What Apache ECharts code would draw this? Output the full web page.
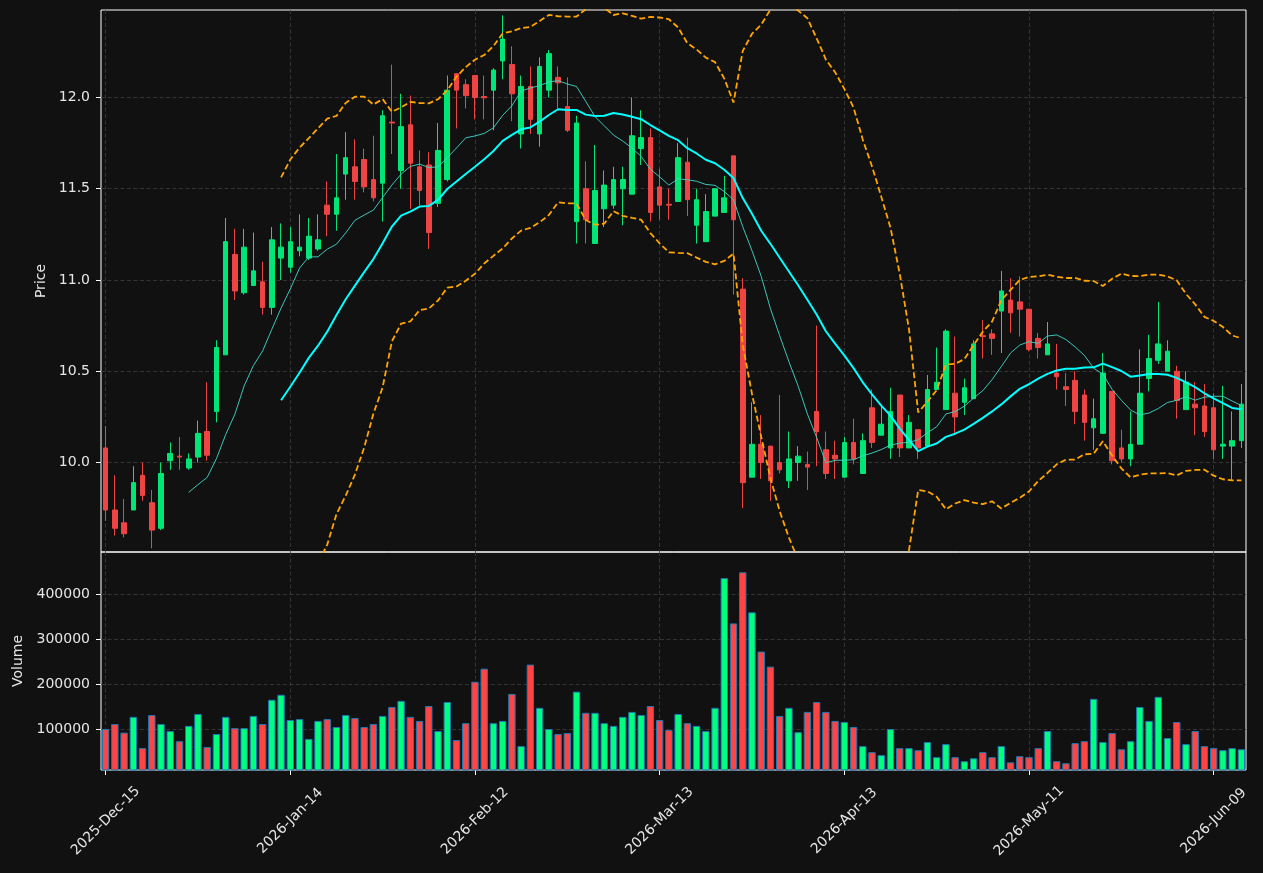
<!DOCTYPE html>
<html>
<head>
<meta charset="utf-8">
<title>Price and volume</title>
<script src="https://cdn.jsdelivr.net/npm/echarts@6/dist/echarts.min.js"></script>
<style>
  html, body { margin: 0; padding: 0; background: #111111; }
  #chart { width: 1263px; height: 873px; }
</style>
</head>
<body>
<div id="chart"></div>
<script>
// trading days (NYSE calendar)
var dates = [
  '2025-Dec-15','2025-Dec-16','2025-Dec-17','2025-Dec-18','2025-Dec-19','2025-Dec-22','2025-Dec-23','2025-Dec-24','2025-Dec-26','2025-Dec-29',
  '2025-Dec-30','2025-Dec-31','2026-Jan-02','2026-Jan-05','2026-Jan-06','2026-Jan-07','2026-Jan-08','2026-Jan-09','2026-Jan-12','2026-Jan-13',
  '2026-Jan-14','2026-Jan-15','2026-Jan-16','2026-Jan-20','2026-Jan-21','2026-Jan-22','2026-Jan-23','2026-Jan-26','2026-Jan-27','2026-Jan-28',
  '2026-Jan-29','2026-Jan-30','2026-Feb-02','2026-Feb-03','2026-Feb-04','2026-Feb-05','2026-Feb-06','2026-Feb-09','2026-Feb-10','2026-Feb-11',
  '2026-Feb-12','2026-Feb-13','2026-Feb-17','2026-Feb-18','2026-Feb-19','2026-Feb-20','2026-Feb-23','2026-Feb-24','2026-Feb-25','2026-Feb-26',
  '2026-Feb-27','2026-Mar-02','2026-Mar-03','2026-Mar-04','2026-Mar-05','2026-Mar-06','2026-Mar-09','2026-Mar-10','2026-Mar-11','2026-Mar-12',
  '2026-Mar-13','2026-Mar-16','2026-Mar-17','2026-Mar-18','2026-Mar-19','2026-Mar-20','2026-Mar-23','2026-Mar-24','2026-Mar-25','2026-Mar-26',
  '2026-Mar-27','2026-Mar-30','2026-Mar-31','2026-Apr-01','2026-Apr-02','2026-Apr-06','2026-Apr-07','2026-Apr-08','2026-Apr-09','2026-Apr-10',
  '2026-Apr-13','2026-Apr-14','2026-Apr-15','2026-Apr-16','2026-Apr-17','2026-Apr-20','2026-Apr-21','2026-Apr-22','2026-Apr-23','2026-Apr-24',
  '2026-Apr-27','2026-Apr-28','2026-Apr-29','2026-Apr-30','2026-May-01','2026-May-04','2026-May-05','2026-May-06','2026-May-07','2026-May-08',
  '2026-May-11','2026-May-12','2026-May-13','2026-May-14','2026-May-15','2026-May-18','2026-May-19','2026-May-20','2026-May-21','2026-May-22',
  '2026-May-26','2026-May-27','2026-May-28','2026-May-29','2026-Jun-01','2026-Jun-02','2026-Jun-03','2026-Jun-04','2026-Jun-05','2026-Jun-08',
  '2026-Jun-09','2026-Jun-10','2026-Jun-11','2026-Jun-12'
];

var opens = [
  10.08, 9.74, 9.67, 9.74, 9.93, 9.78, 9.64, 10.01, 10.035, 9.97,
  10.03, 10.17, 10.28, 10.59, 11.14, 10.93, 10.97, 10.99, 10.85, 11.12,
  11.07, 11.16, 11.12, 11.17, 11.41, 11.36, 11.58, 11.62, 11.66, 11.55,
  11.53, 11.865, 11.60, 11.85, 11.62, 11.63, 11.42, 11.55, 12.13, 12.07,
  12.12, 12.005, 12.04, 12.20, 12.18, 11.80, 12.06, 11.80, 12.04, 12.11,
  11.95, 11.32, 11.50, 11.20, 11.39, 11.41, 11.50, 11.47, 11.72, 11.78,
  11.51, 11.415, 11.43, 11.645, 11.30, 11.21, 11.35, 11.37, 11.68, 10.95,
  9.92, 10.10, 10.09, 10.00, 9.90, 10.00, 9.99, 10.28, 10.07, 10.04,
  9.92, 10.11, 9.94, 10.30, 10.15, 10.08, 10.37, 10.08, 10.18, 10.09,
  10.40, 10.29, 10.38, 10.33, 10.35, 10.695, 10.705, 10.83, 10.89, 10.88,
  10.84, 10.68, 10.59, 10.49, 10.415, 10.45, 10.37, 10.19, 10.16, 10.39,
  10.08, 10.02, 10.10, 10.46, 10.56, 10.50, 10.50, 10.29, 10.32, 10.31,
  10.30, 10.09, 10.09, 10.12
];

var closes = [
  9.74, 9.64, 9.61, 9.89, 9.82, 9.63, 9.94, 10.05, 10.03, 10.02,
  10.16, 10.04, 10.63, 11.21, 10.94, 11.18, 11.05, 10.85, 11.22, 11.18,
  11.21, 11.18, 11.24, 11.22, 11.36, 11.45, 11.67, 11.54, 11.51, 11.45,
  11.90, 11.86, 11.84, 11.64, 11.49, 11.26, 11.71, 12.04, 12.04, 12.01,
  12.00, 11.998, 12.15, 12.32, 12.02, 12.06, 11.88, 12.17, 12.24, 12.08,
  11.82, 11.86, 11.33, 11.49, 11.52, 11.55, 11.55, 11.79, 11.78, 11.37,
  11.41, 11.41, 11.67, 11.44, 11.44, 11.375, 11.50, 11.45, 11.33, 9.89,
  10.10, 10.00, 9.90, 9.96, 10.02, 10.035, 9.975, 10.17, 9.94, 10.02,
  10.11, 10.02, 10.12, 10.11, 10.21, 10.28, 10.08, 10.22, 10.08, 10.40,
  10.44, 10.72, 10.25, 10.41, 10.65, 10.69, 10.68, 10.94, 10.82, 10.84,
  10.62, 10.63, 10.65, 10.47, 10.40, 10.28, 10.22, 10.24, 10.49, 10.01,
  10.02, 10.10, 10.38, 10.57, 10.65, 10.61, 10.34, 10.44, 10.30, 10.17,
  10.07, 10.10, 10.12, 10.32
];

var lows = [
  9.68, 9.60, 9.59, 9.74, 9.79, 9.53, 9.63, 9.96, 9.96, 9.96,
  10.00, 10.01, 10.22, 10.59, 10.89, 10.92, 10.97, 10.81, 10.81, 11.00,
  11.04, 11.13, 11.11, 11.16, 11.24, 11.27, 11.44, 11.44, 11.48, 11.43,
  11.32, 11.69, 11.50, 11.39, 11.41, 11.17, 11.40, 11.54, 11.83, 11.94,
  11.88, 11.88, 11.82, 12.10, 11.87, 11.72, 11.80, 11.73, 12.00, 11.94,
  11.81, 11.20, 11.20, 11.20, 11.29, 11.39, 11.30, 11.47, 11.63, 11.32,
  11.33, 11.33, 11.43, 11.35, 11.20, 11.21, 11.35, 11.37, 10.92, 9.75,
  9.92, 9.91, 9.79, 9.94, 9.86, 9.90, 9.85, 9.98, 9.91, 9.91,
  9.92, 9.99, 9.94, 10.08, 10.15, 10.02, 10.03, 10.08, 10.02, 10.09,
  10.40, 10.29, 10.16, 10.26, 10.35, 10.57, 10.59, 10.60, 10.71, 10.69,
  10.61, 10.57, 10.59, 10.40, 10.31, 10.21, 10.12, 10.07, 10.16, 9.99,
  10.00, 9.98, 10.10, 10.39, 10.54, 10.50, 10.24, 10.29, 10.15, 10.14,
  10.02, 10.02, 9.90, 10.08
];

var highs = [
  10.20, 9.93, 9.80, 9.98, 10.00, 9.85, 10.00, 10.11, 10.14, 10.05,
  10.23, 10.44, 10.67, 11.34, 11.28, 11.28, 11.26, 11.10, 11.29, 11.31,
  11.29, 11.36, 11.34, 11.36, 11.54, 11.69, 11.81, 11.77, 11.72, 11.79,
  11.93, 12.18, 12.02, 12.01, 11.71, 11.70, 11.86, 12.12, 12.13, 12.10,
  12.12, 12.12, 12.16, 12.45, 12.28, 12.12, 12.17, 12.22, 12.26, 12.17,
  12.11, 11.90, 11.65, 11.74, 11.60, 11.62, 11.62, 12.00, 11.93, 11.83,
  11.61, 11.50, 11.75, 11.78, 11.50, 11.47, 11.50, 11.57, 11.68, 11.01,
  10.33, 10.26, 10.09, 10.37, 10.17, 10.09, 10.06, 10.75, 10.17, 10.12,
  10.14, 10.24, 10.16, 10.40, 10.31, 10.41, 10.37, 10.26, 10.18, 10.48,
  10.63, 10.73, 10.69, 10.46, 10.67, 10.78, 10.73, 11.05, 11.01, 11.02,
  10.84, 10.71, 10.77, 10.65, 10.49, 10.50, 10.40, 10.35, 10.60, 10.39,
  10.18, 10.28, 10.62, 10.70, 10.88, 10.67, 10.53, 10.50, 10.44, 10.43,
  10.38, 10.42, 10.28, 10.43
];

var volumes = [
  100000, 111000, 92000, 127000, 57600, 131000, 111000, 95500, 73000, 107000,
  133500, 60000, 89000, 127000, 102000, 102000, 129000, 111000, 165000, 176000,
  120000, 122000, 78000, 118000, 122000, 104500, 131000, 124500, 104500, 111000,
  129000, 149000, 162500, 127000, 118000, 151000, 95500, 160000, 75400, 113000,
  205000, 234000, 113000, 118000, 178000, 62000, 243000, 147000, 100000, 89000,
  91000, 183000, 136000, 136000, 113000, 107000, 127000, 138000, 131000, 151000,
  120000, 98000, 133500, 113000, 107000, 95500, 147000, 435000, 334500, 448000,
  359000, 272000, 238500, 129000, 147000, 93000, 138000, 160000, 138000, 118000,
  115600, 104500, 62000, 48600, 42000, 100000, 57600, 57600, 53000, 71000,
  37500, 66500, 37500, 28500, 35000, 48600, 37500, 62000, 26000, 39700,
  37500, 57600, 95500, 28500, 24000, 68700, 73000, 167000, 71000, 91000,
  55000, 73000, 149000, 118000, 171500, 80000, 115600, 66500, 95500, 62000,
  57600, 53000, 57600, 55000
];

var priceTicks = [10.0, 10.5, 11.0, 11.5, 12.0];
var volumeTicks = [100000, 200000, 300000, 400000];

var UP = '#00e676', DOWN = '#ef4444';
var VOL_UP = '#00ff7f', VOL_DOWN = '#ff4444';

// rolling indicators from the closes
function rollingMean(values, n) {
  return values.map(function (v, i) {
    if (i < n - 1) return '-';
    var s = 0;
    for (var k = i - n + 1; k <= i; k++) s += values[k];
    return s / n;
  });
}
function rollingBand(values, n, mult, sign) {
  var mean = rollingMean(values, n);
  return values.map(function (v, i) {
    if (i < n - 1) return '-';
    var ss = 0;
    for (var k = i - n + 1; k <= i; k++) ss += Math.pow(values[k] - mean[i], 2);
    return mean[i] + sign * mult * Math.sqrt(ss / (n - 1));
  });
}

var ma10 = rollingMean(closes, 10);
var ma20 = rollingMean(closes, 20);
var bbUpper = rollingBand(closes, 20, 2, 1);
var bbLower = rollingBand(closes, 20, 2, -1);

var candles = opens.map(function (o, i) { return [o, closes[i], lows[i], highs[i]]; });
var volumeBars = volumes.map(function (v, i) {
  return { value: v, itemStyle: { color: closes[i] >= opens[i] ? VOL_UP : VOL_DOWN } };
});

var every20 = function (index) { return index % 20 === 0; };
var textColor = '#e6e6e6';
var font = 'DejaVu Sans';
var gridDash = { color: '#3d3d3d', width: 0.8, type: [4, 2.5] };

var chart = echarts.init(document.getElementById('chart'));
chart.setOption({
  backgroundColor: '#111111',
  animation: false,
  textStyle: { fontFamily: font },
  grid: [
    { left: 101, right: 17, top: 10, height: 542, show: true, borderColor: '#ffffff', borderWidth: 1, backgroundColor: 'transparent' },
    { left: 101, right: 17, top: 552, height: 218, show: true, borderColor: '#ffffff', borderWidth: 1, backgroundColor: 'transparent' }
  ],
  xAxis: [
    {
      type: 'category', gridIndex: 0, data: dates, boundaryGap: true,
      axisLine: { show: false }, axisTick: { show: false }, axisLabel: { show: false },
      splitLine: { show: true, interval: every20, alignWithLabel: true, lineStyle: gridDash }
    },
    {
      type: 'category', gridIndex: 1, data: dates, boundaryGap: true,
      axisLine: { show: false },
      axisTick: { show: true, interval: every20, alignWithLabel: true, length: 5, lineStyle: { color: '#ffffff' } },
      axisLabel: {
        interval: every20, rotate: 45, color: textColor, fontSize: 14, fontFamily: font,
        align: 'center', verticalAlign: 'middle', margin: 51
      },
      splitLine: { show: true, interval: every20, alignWithLabel: true, lineStyle: gridDash }
    }
  ],
  yAxis: [
    {
      type: 'value', gridIndex: 0, min: 9.51, max: 12.479, scale: true,
      name: 'Price', nameLocation: 'middle', nameGap: 52,
      nameTextStyle: { color: textColor, fontSize: 14, fontFamily: font },
      axisLine: { show: false },
      axisTick: { show: true, length: 5, lineStyle: { color: '#ffffff' }, customValues: priceTicks },
      axisLabel: {
        color: textColor, fontSize: 14, fontFamily: font, margin: 11, customValues: priceTicks,
        formatter: function (v) { return v.toFixed(1); }
      },
      splitLine: { show: true, lineStyle: gridDash }
    },
    {
      type: 'value', gridIndex: 1, min: 9000, max: 493000,
      name: 'Volume', nameLocation: 'middle', nameGap: 49,
      nameTextStyle: { color: textColor, fontSize: 14, fontFamily: font },
      axisLine: { show: false },
      axisTick: { show: true, length: 5, lineStyle: { color: '#ffffff' }, customValues: volumeTicks },
      axisLabel: {
        color: textColor, fontSize: 14, fontFamily: font, margin: 11, customValues: volumeTicks,
        formatter: function (v) { return String(Math.round(v)); }
      },
      splitLine: { show: true, lineStyle: gridDash }
    }
  ],
  series: [
    {
      name: 'OHLC', type: 'candlestick', xAxisIndex: 0, yAxisIndex: 0,
      data: candles, barWidth: '55%',
      itemStyle: { color: UP, color0: DOWN, borderColor: UP, borderColor0: DOWN, borderWidth: 1 }
    },
    {
      name: 'MA10', type: 'line', xAxisIndex: 0, yAxisIndex: 0, data: ma10,
      showSymbol: false, lineStyle: { color: '#40d8c8', width: 1, opacity: 0.9 }
    },
    {
      name: 'MA20', type: 'line', xAxisIndex: 0, yAxisIndex: 0, data: ma20,
      showSymbol: false, lineStyle: { color: '#00ffff', width: 2 }
    },
    {
      name: 'BB upper', type: 'line', xAxisIndex: 0, yAxisIndex: 0, data: bbUpper,
      showSymbol: false, lineStyle: { color: '#ffa500', width: 1.8, type: [6, 3] }
    },
    {
      name: 'BB lower', type: 'line', xAxisIndex: 0, yAxisIndex: 0, data: bbLower,
      showSymbol: false, lineStyle: { color: '#ffa500', width: 1.8, type: [6, 3] }
    },
    {
      name: 'Volume', type: 'bar', xAxisIndex: 1, yAxisIndex: 1, data: volumeBars,
      barWidth: '80%', itemStyle: { borderColor: '#1f77b4', borderWidth: 1 }
    }
  ]
});
</script>
</body>
</html>
